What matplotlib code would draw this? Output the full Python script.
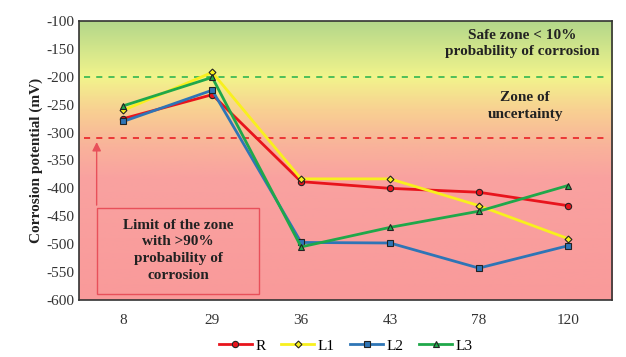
import numpy as np
import matplotlib
matplotlib.use('Agg')
import matplotlib.pyplot as plt
from matplotlib.colors import LinearSegmentedColormap
from matplotlib.patches import Rectangle

plt.rcParams['font.family'] = ['Liberation Serif', 'DejaVu Serif']
plt.rcParams['axes.unicode_minus'] = False

# 数据（从图上读出来的）
days = ['8', '29', '36', '43', '78', '120']
r_vals = [-275, -232, -388, -400, -407, -431]
l1_vals = [-260, -192, -383, -383, -431, -490]
l2_vals = [-280, -224, -497, -498, -543, -503]
l3_vals = [-252, -201, -505, -470, -441, -395]

safe_lim = -200
risk_lim = -310

fig = plt.figure(figsize=(6.26, 3.57), dpi=100)
ax = fig.add_axes([0.126, 0.160, 0.852, 0.781])

x = np.arange(len(days))
ax.set_xlim(-0.5, len(days) - 0.5)
ax.set_ylim(-600, -100)

# 背景渐变：上绿 -> 黄 -> 橙 -> 粉红
stops = [(0.0, '#f99a9a'), (0.44, '#f9a2a0'), (0.56, '#f9b49a'),
         (0.68, '#f8d092'), (0.80, '#f2f48c'), (1.0, '#b3d78a')]
cmap = LinearSegmentedColormap.from_list('zone', stops)
grad = np.linspace(0, 1, 256).reshape(-1, 1)
ax.imshow(grad, extent=[0, 1, 0, 1], transform=ax.transAxes, aspect='auto',
          cmap=cmap, origin='lower', zorder=0)

ax.axhline(safe_lim, color='#22b14c', ls=(0, (4, 4)), lw=1.1, xmin=0.01, xmax=0.985, zorder=1)
ax.axhline(risk_lim, color='#e8141c', ls=(0, (4, 4)), lw=1.1, xmin=0.01, xmax=0.985, zorder=1)

ax.plot(x, r_vals, color='#e8141c', lw=2, marker='o', ms=4.5, mfc='#e8141c', mec='#222222', mew=0.8, label='R', zorder=3)
ax.plot(x, l1_vals, color='#f8f01e', lw=2, marker='D', ms=3.5, mfc='#f8f01e', mec='#222222', mew=0.8, label='L1', zorder=3)
ax.plot(x, l2_vals, color='#2e75b6', lw=2, marker='s', ms=4.5, mfc='#2e75b6', mec='#222222', mew=0.8, label='L2', zorder=3)
ax.plot(x, l3_vals, color='#1fa84a', lw=2, marker='^', ms=4.5, mfc='#1fa84a', mec='#222222', mew=0.8, label='L3', zorder=3)

ax.text(4.49, -140, 'Safe zone < 10%\nprobability of corrosion', ha='center', va='center',
        fontsize=11, fontweight='bold', color='#222222', linespacing=1.35)
ax.text(4.52, -252, 'Zone of\nuncertainty', ha='center', va='center',
        fontsize=11, fontweight='bold', color='#222222', linespacing=1.35)

# 左下角的说明框和箭头
ax.add_patch(Rectangle((-0.3, -590), 1.83, 155, fill=False, ec='#e8505a', lw=1.0, zorder=2))
ax.annotate('', xy=(-0.3, -312), xytext=(-0.3, -435),
            arrowprops=dict(arrowstyle='-|>', color='#e8505a', lw=1.0, mutation_scale=13), zorder=2)
ax.text(0.615, -511, 'Limit of the zone\nwith >90%\nprobability of\ncorrosion', ha='center', va='center',
        fontsize=11, fontweight='bold', color='#222222', linespacing=1.38)

ax.set_xticks(x)
ax.set_xticklabels(days)
ax.set_yticks(np.arange(-600, -99, 50))
ax.tick_params(axis='both', length=0, labelsize=11, colors='#333333')
ax.tick_params(axis='x', pad=10)
ax.set_ylabel('Corrosion potential (mV)', fontsize=11, fontweight='bold', color='#222222', labelpad=2)
for sp in ax.spines.values():
    sp.set_color('#333333')
    sp.set_linewidth(1.2)

ax.legend(loc='center', bbox_to_anchor=(0.5, -0.165), ncol=4, frameon=False,
          fontsize=11, handlelength=2.2, handletextpad=0.2, columnspacing=1.0)

fig.savefig('out.png', dpi=100)
